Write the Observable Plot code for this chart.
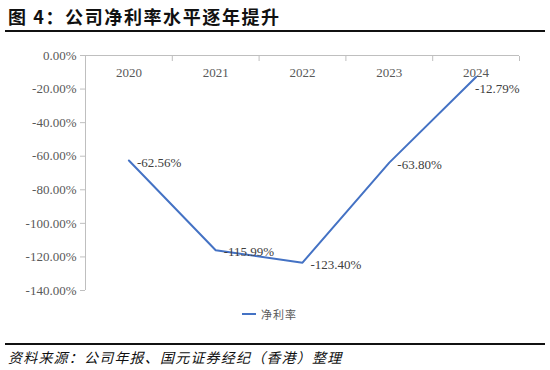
<!DOCTYPE html>
<html>
<head>
<meta charset="utf-8">
<script src="https://cdn.jsdelivr.net/npm/d3@7"></script>
<script src="https://cdn.jsdelivr.net/npm/@observablehq/plot@0.6"></script>
<style>
  html, body { margin: 0; padding: 0; background: #fff; }
  #page { position: relative; width: 550px; height: 370px; overflow: hidden; background: #fff; }
  .title { position: absolute; left: 8px; top: 6px; font-family: "Noto Sans CJK SC", sans-serif; font-weight: bold; font-size: 18px; line-height: 20px; letter-spacing: 1.6px; color: #111; white-space: nowrap; }
  .rule { position: absolute; left: 5px; width: 540px; height: 2px; background: #111; }
  #chart { position: absolute; left: 0; top: 40px; }
  .legend { position: absolute; left: 242px; top: 306px; height: 16px; display: flex; align-items: center; font-family: "Noto Sans CJK SC", sans-serif; font-size: 11px; letter-spacing: 1px; color: #595959; white-space: nowrap; }
  .legend .swatch { display: inline-block; width: 14px; height: 2px; background: #4472C4; margin-right: 5px; }
  .caption { position: absolute; left: 8px; top: 348px; font-family: "Noto Sans CJK SC", sans-serif; font-style: italic; font-size: 14px; line-height: 18px; letter-spacing: 1.2px; color: #111; white-space: nowrap; }
</style>
</head>
<body>
<div id="page">
  <div class="title">图 4：公司净利率水平逐年提升</div>
  <div class="rule" style="top:30px"></div>
  <div id="chart"></div>
  <div class="legend"><span class="swatch"></span><span>净利率</span></div>
  <div class="rule" style="top:343px"></div>
  <div class="caption">资料来源：公司年报、国元证券经纪（香港）整理</div>
</div>
<script>
const years = ["2020", "2021", "2022", "2023", "2024"];
const netMargin = [-62.56, -115.99, -123.40, -63.80, -12.79];
const yTicks = [0, -20, -40, -60, -80, -100, -120, -140];

const data = years.map((year, i) => ({ i, year, value: netMargin[i] }));
const xDomain = [-0.5, years.length - 0.5];
const boundaries = d3.range(years.length + 1).map(k => k - 0.5);
const axisGray = "#bfbfbf";
const fmt = v => v.toFixed(2) + "%";

const chart = Plot.plot({
  width: 550,
  height: 265,
  marginTop: 15,
  marginBottom: 15,
  marginLeft: 85,
  marginRight: 31,
  style: { fontFamily: "'Liberation Serif', 'Times New Roman', serif", fontSize: "13px", background: "white", overflow: "visible" },
  x: { domain: xDomain, axis: null },
  y: { domain: [d3.min(yTicks), d3.max(yTicks)], axis: null },
  marks: [
    Plot.axisY({ ticks: yTicks, tickFormat: fmt, tickSize: 5, tickPadding: 4, stroke: axisGray, fill: "#595959", label: null, fontSize: 13 }),
    Plot.ruleX([xDomain[0]], { stroke: axisGray }),
    Plot.ruleY([d3.max(yTicks)], { stroke: axisGray }),
    Plot.axisX({ anchor: "top", ticks: boundaries, tickFormat: () => "", tickSize: -5, stroke: axisGray, label: null }),
    Plot.text(data, { x: "i", text: "year", frameAnchor: "top", lineAnchor: "middle", dy: 17, fill: "#595959", fontSize: 13 }),
    Plot.line(data, { x: "i", y: "value", stroke: "#4472C4", strokeWidth: 2 }),
    Plot.text(data.slice(0, -1), { x: "i", y: "value", text: d => fmt(d.value), textAnchor: "start", dx: 8, dy: 2, fill: "#404040", fontSize: 13 }),
    Plot.text(data.slice(-1), { x: "i", y: "value", text: d => fmt(d.value), textAnchor: "start", dx: -1, dy: 12, fill: "#404040", fontSize: 13 })
  ]
});
document.getElementById("chart").appendChild(chart);
</script>
</body>
</html>
